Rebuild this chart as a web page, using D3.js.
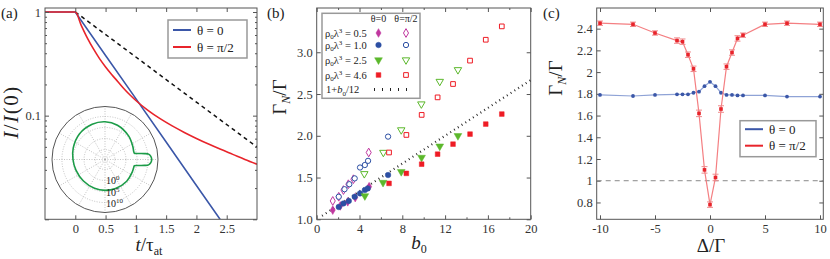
<!DOCTYPE html>
<html lang="en">
<head>
<meta charset="UTF-8">
<title>decay panels</title>
<script src="https://cdn.jsdelivr.net/npm/d3@7"></script>
<style>
  body { margin: 0; background: #fff; }
  text { font-family: "Liberation Serif", "DejaVu Serif", serif; fill: #222; }
  .frame { fill: none; stroke: #555; stroke-width: 1; }
  .tick line { stroke: #555; }
  .tick text { font-family: "Liberation Serif", "DejaVu Serif", serif; font-size: 12.5px; fill: #333; }
</style>
</head>
<body>
<svg id="fig" width="830" height="259"></svg>
<script>
// ---- panel (a): intensity decay, log scale ----
const aBlueT = [-0.5, 0, 0.5, 1, 1.5, 2, 2.39];
const aBlueI = [1, 1, 0.381, 0.146, 0.0556, 0.0212, 0.01];
const aRedT = [-0.5, 0, 0.1, 0.2, 0.3, 0.4, 0.5, 0.6, 0.7, 0.8, 0.9, 1.0, 1.2, 1.4, 1.6, 1.8, 2.0, 2.2, 2.4, 2.6, 2.8, 3.0];
const aRedI = [1, 1, 0.74, 0.56, 0.44, 0.355, 0.295, 0.25, 0.214, 0.183, 0.159, 0.14, 0.1125, 0.0935, 0.0796, 0.0689, 0.0603, 0.0532, 0.0473, 0.0423, 0.0378, 0.034];
const aDashT = [0, 1, 2, 3];
const aDashI = [1, 0.368, 0.135, 0.0498];
const aXTicks = [0, 0.5, 1, 1.5, 2, 2.5];

// inset polar pattern: angle (deg) and log10 of intensity
const polAng = [0, 4, 7, 8.5, 10, 12, 16, 25, 45, 70, 90, 110, 135, 160, 180, 200, 225, 250, 270, 290, 315, 335, 344, 348, 350, 351.5, 353, 356];
const polLog = [11.65, 11.3, 10.4, 8.6, 6.3, 4.1, 4.0, 4.4, 5.6, 7.0, 7.6, 7.5, 6.9, 5.8, 5.0, 4.5, 4.3, 4.4, 4.5, 4.5, 4.4, 4.1, 4.0, 4.1, 6.3, 8.6, 10.4, 11.3];
const polRings = [-5, 0, 5, 10];
const polRingLabels = ["0", "5", "10"];

// ---- panel (b): Gamma_N vs b0 ----
const bFill05 = [[1.5, 1.11], [2.2, 1.16], [2.9, 1.21], [3.6, 1.26], [4.9, 1.39]];
const bOpen05 = [[1.5, 1.22], [2.06, 1.27], [2.5, 1.35], [2.96, 1.42], [3.43, 1.48], [4.86, 1.80]];
const bFill10 = [[2.06, 1.147], [2.5, 1.19], [3.0, 1.22], [3.55, 1.27], [4.05, 1.31], [4.5, 1.35], [4.77, 1.37], [6.67, 1.53]];
const bOpen10 = [[2.06, 1.27], [2.6, 1.36], [3.05, 1.42], [3.55, 1.49], [4.05, 1.62], [4.5, 1.65], [4.8, 1.70], [6.67, 1.99]];
const bFill25 = [[4.5, 1.28], [6.2, 1.44], [7.9, 1.57], [9.8, 1.74], [11.5, 1.875], [13.2, 2.0]];
const bOpen25 = [[4.45, 1.545], [6.23, 1.80], [7.9, 2.07], [9.78, 2.38], [11.5, 2.65], [13.2, 2.79]];
const bFill46 = [[6.76, 1.43], [8.38, 1.55], [9.81, 1.66], [11.3, 1.78], [12.74, 1.90], [14.33, 2.02], [15.8, 2.14], [17.3, 2.26]];
const bOpen46 = [[6.76, 1.80], [8.38, 2.01], [9.81, 2.25], [11.3, 2.46], [12.74, 2.62], [14.33, 2.90], [15.8, 3.15], [17.3, 3.31]];
const bLineB = [0.5, 20];
const bLineV = [1.042, 2.667];
const bXTicks = [0, 4, 8, 12, 16, 20];
const bYTicks = [1.0, 1.5, 2.0, 2.5, 3.0];
const bRhoLabels = ["0.5", "1.0", "2.5", "4.6"];

// ---- panel (c): Gamma_N vs detuning ----
const cDelta = [-10, -7, -5, -3, -2.5, -2, -1.5, -1, -0.5, 0, 0.5, 1, 1.5, 2, 2.5, 3, 5, 7, 10];
const cRed = [2.45, 2.44, 2.36, 2.29, 2.28, 2.16, 2.03, 1.62, 1.10, 0.78, 1.03, 1.66, 2.05, 2.18, 2.31, 2.34, 2.44, 2.45, 2.44];
const cRedErr = [0.02, 0.02, 0.02, 0.025, 0.025, 0.025, 0.025, 0.03, 0.03, 0.025, 0.03, 0.03, 0.025, 0.025, 0.025, 0.02, 0.02, 0.02, 0.02];
const cBlue = [1.79, 1.78, 1.79, 1.795, 1.795, 1.795, 1.81, 1.82, 1.87, 1.91, 1.87, 1.81, 1.79, 1.79, 1.785, 1.785, 1.785, 1.775, 1.775];
const cXTicks = [-10, -5, 0, 5, 10];
const cYTicks = [0.8, 1, 1.2, 1.4, 1.6, 1.8, 2, 2.2, 2.4];

const BLUE = "#3b57a8", RED = "#e8242b";
const svg = d3.select("#fig");
const yTop = 8, yBot = 219.3;

function frame(x0, x1) {
  svg.append("rect").attr("class", "frame")
    .attr("x", x0).attr("y", yTop).attr("width", x1 - x0).attr("height", yBot - yTop);
}

// ticks pointing inwards on all four sides
function axes(x, y, xMajor, xMinor, yMajor, yMinor, xFmt, yFmt) {
  const [x0, x1] = x.range();
  const mk = (axis, tr, vals, size, fmt, pad) => {
    const g = svg.append("g").attr("transform", tr)
      .call(axis.tickValues(vals).tickSize(size).tickPadding(pad || 3).tickFormat(fmt));
    g.select(".domain").remove();
    g.attr("font-family", null).attr("font-size", null);
    return g;
  };
  mk(d3.axisBottom(x), `translate(0,${yBot})`, xMajor, -4, xFmt, 5);
  mk(d3.axisTop(x), `translate(0,${yTop})`, xMajor, -4, () => "");
  mk(d3.axisLeft(y), `translate(${x0},0)`, yMajor, -4, yFmt, 4);
  mk(d3.axisRight(y), `translate(${x1},0)`, yMajor, -4, () => "");
  if (xMinor.length) {
    mk(d3.axisBottom(x), `translate(0,${yBot})`, xMinor, -2, () => "");
    mk(d3.axisTop(x), `translate(0,${yTop})`, xMinor, -2, () => "");
  }
  if (yMinor.length) {
    mk(d3.axisLeft(y), `translate(${x0},0)`, yMinor, -2, () => "");
    mk(d3.axisRight(y), `translate(${x1},0)`, yMinor, -2, () => "");
  }
}

function panelLabel(x, s) {
  svg.append("text").attr("x", x).attr("y", 18).attr("font-size", 15).text(s);
}

function legendLines(x, y, w, h, off, step, items) {
  const g = svg.append("g");
  g.append("rect").attr("x", x).attr("y", y).attr("width", w).attr("height", h)
    .attr("fill", "#fff").attr("stroke", "#999").attr("stroke-width", 1.5);
  items.forEach((it, i) => {
    const yy = y + off + i * step;
    g.append("line").attr("x1", x + 5).attr("x2", x + 23).attr("y1", yy).attr("y2", yy)
      .attr("stroke", it.c).attr("stroke-width", 2);
    g.append("text").attr("x", x + 29).attr("y", yy + 4.5).attr("font-size", 13).text(it.t);
  });
}

function gammaLabel(cx, cy) {
  const yl = svg.append("text").attr("transform", `translate(${cx},${cy}) rotate(-90)`)
    .attr("text-anchor", "middle").attr("font-size", 19);
  yl.append("tspan").text("Γ");
  yl.append("tspan").attr("dy", 4).attr("font-size", 12).attr("font-style", "italic").text("N");
  yl.append("tspan").attr("dy", -4).text("/Γ");
}

// ================= panel (a) =================
{
  const x = d3.scaleLinear().domain([-0.5, 3]).range([45, 257]);
  const y = d3.scaleLog().domain([0.01, 1.093]).range([yBot, yTop]);
  svg.append("clipPath").attr("id", "clipA").append("rect")
    .attr("x", 45).attr("y", yTop).attr("width", 212).attr("height", yBot - yTop);
  const gA = svg.append("g").attr("clip-path", "url(#clipA)");

  // inset polar plot
  const cx = 105, cy = 159.5;
  const r = d3.scaleLinear().domain([-9.5, 14.5]).range([0, 53]);
  const gi = svg.append("g").attr("transform", `translate(${cx},${cy})`);
  d3.range(0, 360, 30).forEach(a => {
    const t = a * Math.PI / 180;
    gi.append("line").attr("x1", 0).attr("y1", 0)
      .attr("x2", 53 * Math.cos(t)).attr("y2", -53 * Math.sin(t))
      .attr("stroke", "#aaa").attr("stroke-width", 0.7).attr("stroke-dasharray", "1,1.5");
  });
  polRings.forEach(v => gi.append("circle").attr("r", r(v)).attr("fill", "none")
    .attr("stroke", "#aaa").attr("stroke-width", 0.7).attr("stroke-dasharray", "1,1.5"));
  gi.append("circle").attr("r", 53).attr("fill", "none").attr("stroke", "#555").attr("stroke-width", 1);
  const polLine = d3.lineRadial().curve(d3.curveCatmullRomClosed.alpha(0.5))
    .angle((d, i) => Math.PI / 2 - polAng[i] * Math.PI / 180)
    .radius((d, i) => r(polLog[i]));
  gi.append("path").datum(polAng).attr("d", polLine)
    .attr("fill", "none").attr("stroke", "#1c9c48").attr("stroke-width", 1.6);
  polRingLabels.forEach((s, i) => {
    const t = gi.append("text").attr("x", 1).attr("y", r(polRings[i + 1]) + 4).attr("font-size", 10).attr("fill", "#333");
    t.append("tspan").text("10");
    t.append("tspan").attr("dy", -4).attr("font-size", 7).text(s);
  });

  const line = d3.line().x(d => x(d[0])).y(d => y(d[1]));
  const curve = d3.line().curve(d3.curveMonotoneX).x(d => x(d[0])).y(d => y(d[1]));
  gA.append("path").datum(aDashT.map((t, i) => [t, aDashI[i]])).attr("d", line)
    .attr("fill", "none").attr("stroke", "#111").attr("stroke-width", 1.5).attr("stroke-dasharray", "4,3.5");
  gA.append("path").datum(aBlueT.map((t, i) => [t, aBlueI[i]])).attr("d", line)
    .attr("fill", "none").attr("stroke", BLUE).attr("stroke-width", 1.6);
  gA.append("path").datum(aRedT.map((t, i) => [t, aRedI[i]])).attr("d", curve)
    .attr("fill", "none").attr("stroke", RED).attr("stroke-width", 1.6);

  frame(45, 257);
  const yMinor = [];
  [0.01, 0.1].forEach(b => d3.range(2, 10).forEach(k => yMinor.push(b * k)));
  axes(x, y, aXTicks, [], [0.01, 0.1, 1], yMinor, d => d, d => (d === 1 ? "1" : d === 0.1 ? "0.1" : ""));

  legendLines(168, 20, 79, 38, 10, 17, [{ c: BLUE, t: "θ = 0" }, { c: RED, t: "θ = π/2" }]);

  panelLabel(1, "(a)");
  const yl = svg.append("text").attr("transform", "translate(18,112) rotate(-90)")
    .attr("text-anchor", "middle").attr("font-size", 21).attr("letter-spacing", 1.5);
  yl.append("tspan").attr("font-style", "italic").text("I");
  yl.append("tspan").text("/");
  yl.append("tspan").attr("font-style", "italic").text("I");
  yl.append("tspan").text("(0)");
  const xl = svg.append("text").attr("x", 149).attr("y", 251).attr("text-anchor", "middle").attr("font-size", 19);
  xl.append("tspan").attr("font-style", "italic").text("t");
  xl.append("tspan").text("/τ");
  xl.append("tspan").attr("dy", 4).attr("font-size", 12).text("at");
}

// ================= panel (b) =================
{
  const x = d3.scaleLinear().domain([0, 20]).range([316.7, 530.7]);
  const y = d3.scaleLinear().domain([1, 3.53]).range([yBot, yTop]);
  frame(316.7, 530.7);
  axes(x, y, bXTicks, d3.range(2, 20, 4), bYTicks, [], d => d, d3.format(".1f"));

  svg.append("path").datum(bLineB.map((b, i) => [b, bLineV[i]]))
    .attr("d", d3.line().x(d => x(d[0])).y(d => y(d[1])))
    .attr("stroke", "#222").attr("stroke-width", 2.2).attr("stroke-dasharray", "0.9,3.6").attr("fill", "none");

  const series = [
    { d: bFill05, sym: d3.symbolDiamond, size: 22, c: "#c0369f", open: false },
    { d: bOpen05, sym: d3.symbolDiamond, size: 22, c: "#c0369f", open: true },
    { d: bFill10, sym: d3.symbolCircle, size: 24, c: "#2c4fa3", open: false },
    { d: bOpen10, sym: d3.symbolCircle, size: 22, c: "#2c4fa3", open: true },
    { d: bFill25, sym: d3.symbolTriangle, size: 26, c: "#5cb82c", open: false, down: true },
    { d: bOpen25, sym: d3.symbolTriangle, size: 24, c: "#5cb82c", open: true, down: true },
    { d: bFill46, sym: d3.symbolSquare, size: 22, c: "#ee1c25", open: false },
    { d: bOpen46, sym: d3.symbolSquare, size: 22, c: "#ee1c25", open: true }
  ];
  const drawSym = (g, s, px, py) => g.append("path")
    .attr("d", d3.symbol().type(s.sym).size(s.size)())
    .attr("transform", `translate(${px},${py})` + (s.down ? " rotate(180)" : ""))
    .attr("fill", s.open ? "#fff" : s.c).attr("stroke", s.c).attr("stroke-width", s.open ? 1 : 0.5);
  series.forEach(s => {
    const g = svg.append("g");
    s.d.forEach(p => drawSym(g, s, x(p[0]), y(p[1])));
  });

  // legend
  const lg = svg.append("g");
  lg.append("rect").attr("x", 322).attr("y", 13.3).attr("width", 98).attr("height", 85)
    .attr("fill", "#fff").attr("stroke", "#999").attr("stroke-width", 1.5);
  lg.append("text").attr("x", 378.5).attr("y", 21.5).attr("text-anchor", "middle").attr("font-size", 10).text("θ=0");
  lg.append("text").attr("x", 406).attr("y", 21.5).attr("text-anchor", "middle").attr("font-size", 10).text("θ=π/2");
  const rowY = [33, 45, 60, 75];
  bRhoLabels.forEach((v, i) => {
    const t = lg.append("text").attr("x", 325).attr("y", rowY[i] + 3.5).attr("font-size", 10.5);
    t.append("tspan").text("ρ");
    t.append("tspan").attr("dy", 2.5).attr("font-size", 7).text("0");
    t.append("tspan").attr("dy", -2.5).text("λ");
    t.append("tspan").attr("dy", -4).attr("font-size", 7).text("3");
    t.append("tspan").attr("dy", 4).text(" = " + v);
    drawSym(lg, series[2 * i], 378.5, rowY[i]);
    drawSym(lg, series[2 * i + 1], 406, rowY[i]);
  });
  const t5 = lg.append("text").attr("x", 326).attr("y", 93).attr("font-size", 10.5);
  t5.append("tspan").text("1+");
  t5.append("tspan").attr("font-style", "italic").text("b");
  t5.append("tspan").attr("dy", 2.5).attr("font-size", 7).text("0");
  t5.append("tspan").attr("dy", -2.5).text("/12");
  lg.append("line").attr("x1", 374).attr("x2", 412).attr("y1", 89.5).attr("y2", 89.5)
    .attr("stroke", "#222").attr("stroke-width", 3).attr("stroke-dasharray", "1,7");

  panelLabel(267, "(b)");
  gammaLabel(286, 97);
  const xl = svg.append("text").attr("x", 419).attr("y", 249).attr("text-anchor", "middle").attr("font-size", 19);
  xl.append("tspan").attr("font-style", "italic").text("b");
  xl.append("tspan").attr("dy", 4).attr("font-size", 12).text("0");
}

// ================= panel (c) =================
{
  const x = d3.scaleLinear().domain([-10.3, 10.3]).range([596.7, 823.3]);
  const y = d3.scaleLinear().domain([0.645, 2.59]).range([yBot, yTop]);
  frame(596.7, 823.3);
  axes(x, y, cXTicks, [], cYTicks, [], d => d, d => d);

  svg.append("line").attr("x1", 596.7).attr("x2", 823.3).attr("y1", y(1)).attr("y2", y(1))
    .attr("stroke", "#888").attr("stroke-width", 1).attr("stroke-dasharray", "5,4");

  const line = d3.line().x((d, i) => x(cDelta[i])).y(d => y(d));
  svg.append("path").datum(cBlue).attr("d", line).attr("fill", "none").attr("stroke", "#8fa3d6").attr("stroke-width", 1.2);
  svg.selectAll(".bdot").data(cBlue).join("circle").attr("class", "bdot")
    .attr("cx", (d, i) => x(cDelta[i])).attr("cy", d => y(d)).attr("r", 1.9).attr("fill", BLUE);

  svg.append("path").datum(cRed).attr("d", line).attr("fill", "none").attr("stroke", "#f47f82").attr("stroke-width", 1.2);
  const eb = svg.append("g").attr("stroke", "#f08a8c").attr("stroke-width", 1);
  cRed.forEach((v, i) => {
    const px = x(cDelta[i]), y1 = y(v - cRedErr[i]), y2 = y(v + cRedErr[i]);
    eb.append("line").attr("x1", px).attr("x2", px).attr("y1", y1).attr("y2", y2);
    eb.append("line").attr("x1", px - 3).attr("x2", px + 3).attr("y1", y1).attr("y2", y1);
    eb.append("line").attr("x1", px - 3).attr("x2", px + 3).attr("y1", y2).attr("y2", y2);
  });
  svg.selectAll(".rdot").data(cRed).join("rect").attr("class", "rdot")
    .attr("x", (d, i) => x(cDelta[i]) - 1.8).attr("y", d => y(d) - 1.8)
    .attr("width", 3.6).attr("height", 3.6).attr("fill", RED);

  legendLines(740, 120.7, 76, 36, 8.5, 16.5, [{ c: BLUE, t: "θ = 0" }, { c: RED, t: "θ = π/2" }]);

  panelLabel(543, "(c)");
  gammaLabel(562, 78);
  svg.append("text").attr("x", 711).attr("y", 252).attr("text-anchor", "middle").attr("font-size", 19).text("Δ/Γ");
}
</script>
</body>
</html>
